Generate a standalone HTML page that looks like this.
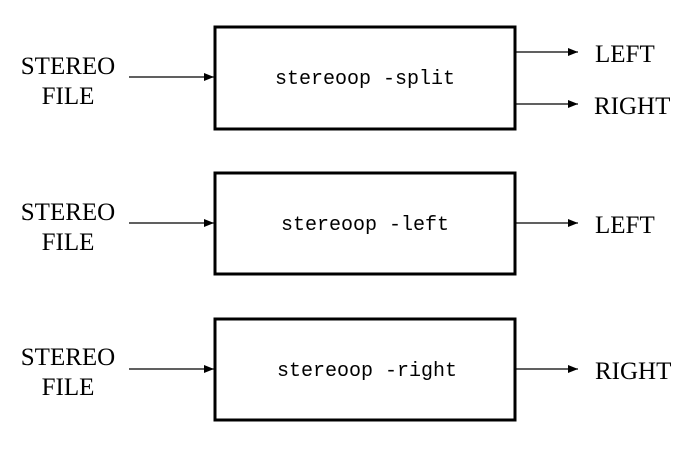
<!DOCTYPE html>
<html><head><style>body{margin:0;background:#fff}</style></head><body>
<svg width="697" height="445" xmlns="http://www.w3.org/2000/svg">
<defs><marker id="a" markerWidth="10" markerHeight="8" refX="10" refY="4" orient="auto" markerUnits="userSpaceOnUse"><path d="M0,0 L10,4 L0,8 z" fill="#000"/></marker></defs>
<g font-family="Liberation Serif, serif" font-size="25" fill="#000" text-anchor="middle">
<text x="68" y="74">STEREO</text><text x="68" y="104">FILE</text>
<text x="68" y="220">STEREO</text><text x="68" y="250">FILE</text>
<text x="68" y="365">STEREO</text><text x="68" y="395">FILE</text>
</g>
<g font-family="Liberation Serif, serif" font-size="25" fill="#000">
<text x="595" y="62">LEFT</text><text x="594" y="114">RIGHT</text>
<text x="595" y="233">LEFT</text>
<text x="595" y="379">RIGHT</text>
</g>
<g fill="none" stroke="#000" stroke-width="3">
<rect x="215" y="27" width="300" height="102"/>
<rect x="215" y="173" width="300" height="101"/>
<rect x="215" y="319" width="300" height="101"/>
</g>
<g stroke="#000" stroke-width="1.2" marker-end="url(#a)">
<line x1="129" y1="77" x2="214" y2="77"/>
<line x1="129" y1="223" x2="214" y2="223"/>
<line x1="129" y1="369" x2="214" y2="369"/>
<line x1="516" y1="52" x2="578" y2="52"/>
<line x1="516" y1="104" x2="578" y2="104"/>
<line x1="516" y1="223" x2="578" y2="223"/>
<line x1="516" y1="369" x2="578" y2="369"/>
</g>
<g font-family="Liberation Mono, monospace" font-size="20" fill="#000" text-anchor="middle">
<text x="365" y="84">stereoop -split</text>
<text x="365" y="230">stereoop -left</text>
<text x="367" y="376">stereoop -right</text>
</g>
</svg>
</body></html>
